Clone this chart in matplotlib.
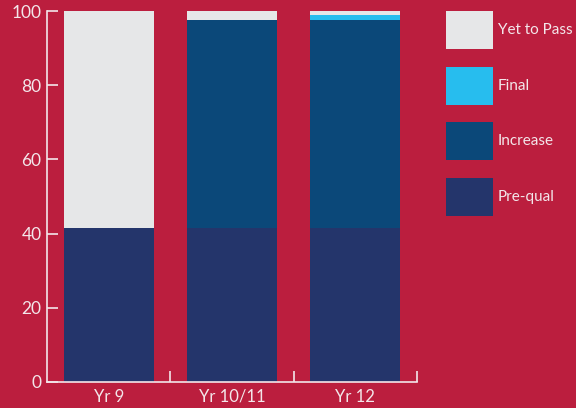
import numpy as np
import matplotlib.pyplot as plt
from matplotlib.patches import Rectangle
from matplotlib.ticker import FixedLocator

# ==========================================================
# Data
# ==========================================================

years = ["Yr 9", "Yr 10/11", "Yr 12"]

pre_qual = [41.5, 41.5, 41.5]
increase = [0.0, 56.0, 56.0]
final = [0.0, 0.0, 1.3]
yet_to_pass = [58.5, 2.5, 1.2]

series = ["Pre-qual", "Increase", "Final", "Yet to Pass"]
colors = ["#24356B", "#0B4879", "#27BDEE", "#E6E7E8"]

BG = "#BB1E3E"
FG = "#F3E6EA"

plt.rcParams["font.family"] = ["Lato", "DejaVu Sans"]

# ==========================================================
# Plot
# ==========================================================

W, H = 576, 408
fig = plt.figure(figsize=(W / 100, H / 100), dpi=100, facecolor=BG)
ax = fig.add_axes([47 / W, 26 / H, 370 / W, 371 / H])
ax.set_facecolor(BG)

x = np.arange(len(years))
bottom = np.zeros(len(years))
for name, vals, col in zip(series, [pre_qual, increase, final, yet_to_pass], colors):
    ax.bar(x, vals, width=0.73, bottom=bottom, color=col, linewidth=0)
    bottom += np.array(vals)

ax.set_xlim(-0.5, 2.5)
ax.set_ylim(0, 100)
ax.set_yticks([0, 20, 40, 60, 80, 100])
ax.set_xticks(x)
ax.set_xticklabels(years)
ax.xaxis.set_minor_locator(FixedLocator([0.5, 1.5, 2.5]))

for side in ["top", "right"]:
    ax.spines[side].set_visible(False)
for side in ["left", "bottom"]:
    ax.spines[side].set_color(FG)
    ax.spines[side].set_linewidth(1.2)

ax.tick_params(axis="y", direction="in", length=8, width=1.2, color=FG,
               labelcolor=FG, labelsize=12.5, pad=4)
ax.tick_params(axis="x", which="major", length=0, labelcolor=FG,
               labelsize=12, pad=5)
ax.tick_params(axis="x", which="minor", direction="in", length=8,
               width=1.2, color=FG)

# legend drawn by hand, top entry first
for i, (name, col) in enumerate(zip(series[::-1], colors[::-1])):
    top = 11 + i * 55.7
    fig.add_artist(Rectangle((446 / W, 1 - (top + 38) / H), 47 / W, 38 / H,
                             facecolor=col, linewidth=0,
                             transform=fig.transFigure))
    fig.text(498 / W, 1 - (top + 19) / H, name, color=FG, fontsize=11,
             ha="left", va="center")

fig.savefig("out.png", dpi=100, facecolor=BG)
